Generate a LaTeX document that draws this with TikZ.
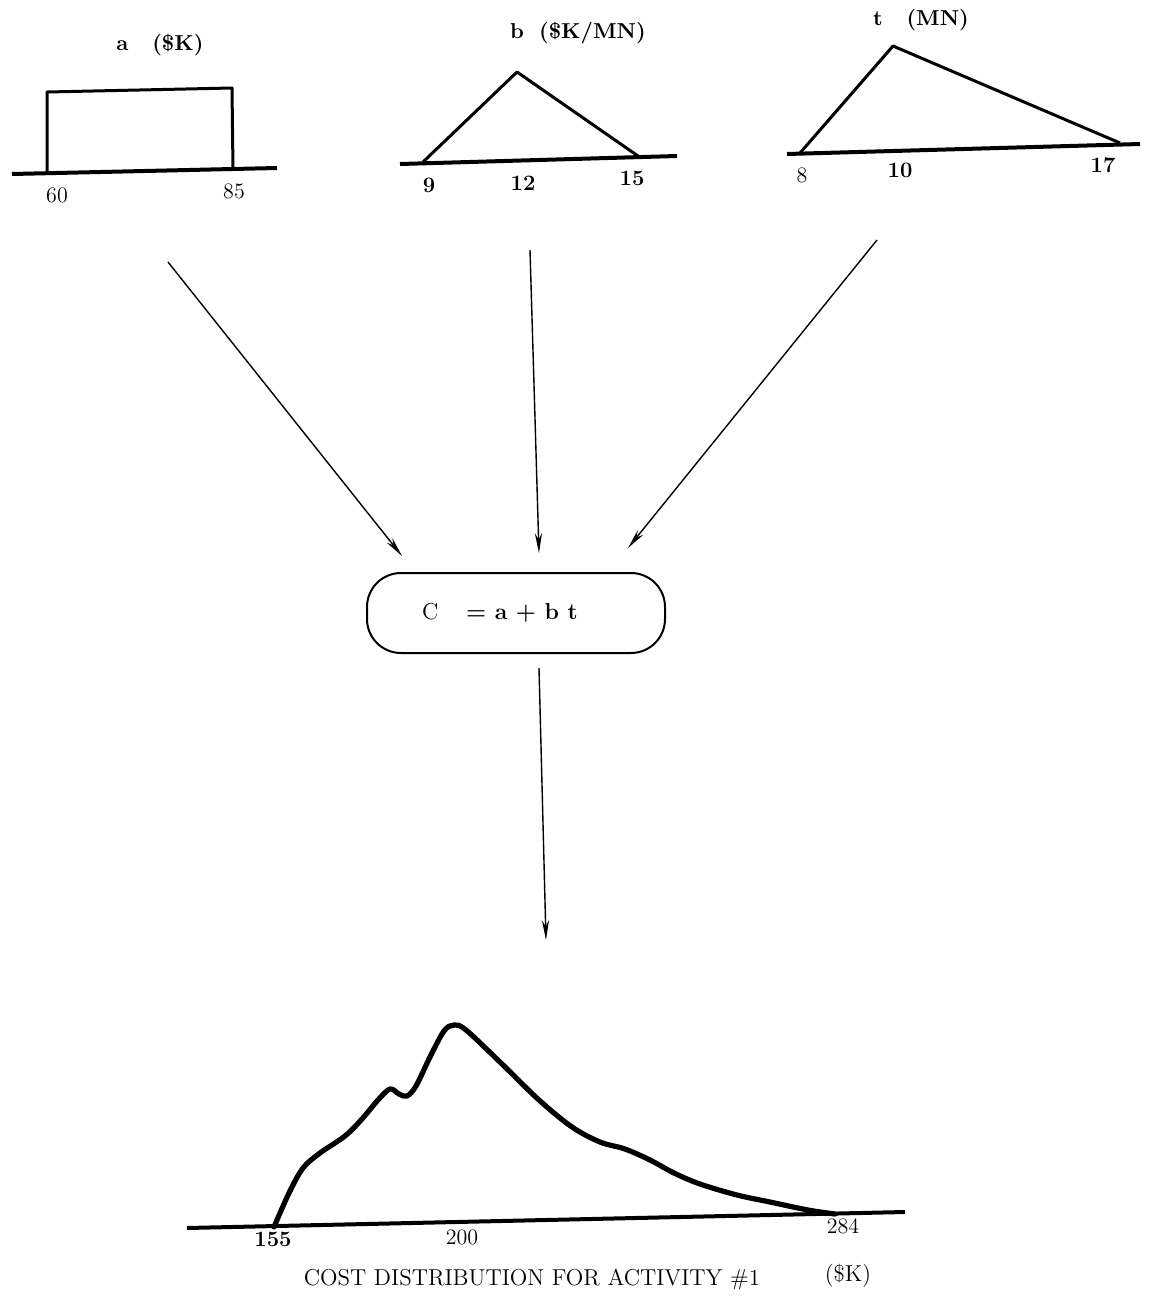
\documentclass[tikz,border=0pt]{standalone}
\usetikzlibrary{arrows.meta}
\begin{document}
\begin{tikzpicture}[x=0.5pt,y=-0.5pt,
  ground/.style={line width=2pt},
  distline/.style={line width=1.5pt,line join=round},
  bigcurve/.style={line width=2.6pt,line join=round,line cap=round},
  arr/.style={line width=0.7pt,-{Stealth[length=10pt,width=3.6pt]}},
  capsule/.style={draw,line width=1pt,rounded corners=17pt,minimum width=149pt,minimum height=40pt,inner sep=0pt},
  lab/.style={font=\fontsize{10.8}{13}\selectfont\bfseries,inner sep=0pt},
  num/.style={font=\fontsize{11}{13}\selectfont,inner sep=0pt},
  bnum/.style={font=\fontsize{11}{13}\selectfont\bfseries,inner sep=0pt},
  captext/.style={font=\fontsize{11.5}{14}\selectfont,inner sep=0pt}]
\useasboundingbox (0,0) rectangle (1150,1307);

% ---- a distribution (uniform)
\node[lab] (la) at (160,45) {a\hspace{1.1em}(\$K)};
\draw[ground] (12,174) -- (277,168);
\draw[distline] (47,172) -- (47,92) -- (232,88) -- (233,170);
\node[num] (n60) at (57,195) {60};
\node[num] (n85) at (234,191) {85};

% ---- b distribution (triangular)
\node[lab] (lb) at (578,33) {b\hspace{0.7em}(\$K/MN)};
\draw[ground] (400,164) -- (677,156);
\draw[distline] (423,162) -- (517,72) -- (638,156);
\node[bnum] (n9) at (429,185) {9};
\node[bnum] (n12) at (523,183) {12};
\node[bnum] (n15) at (632,178) {15};

% ---- t distribution (triangular)
\node[lab] (lt) at (921,20) {t\hspace{1.1em}(MN)};
\draw[ground] (787,154) -- (1140,144);
\draw[distline] (800,153) -- (893,46) -- (1120,143);
\node[num] (n8) at (802,175) {8};
\node[bnum] (n10) at (900,170) {10};
\node[bnum] (n17) at (1103,165) {17};

% ---- combination box
\node[capsule] (C) at (516,613) {};
\node[font=\fontsize{11.5}{14}\selectfont,inner sep=0pt] (eq) at (500,613) {C\hspace{1.2em}\textbf{= a + b t}};

% ---- arrows
\coordinate (sa) at (168,262);
\coordinate (ea) at (402,556);
\coordinate (sb) at (530,250);
\coordinate (eb) at (539,553);
\coordinate (st) at (877,240);
\coordinate (et) at (628,548);
\coordinate (sc) at (539,668);
\coordinate (ec) at (546,940);
\draw[arr] (sa) -- (ea);
\draw[arr] (sb) -- (eb);
\draw[arr] (st) -- (et);
\draw[arr] (sc) -- (ec);

% ---- cost distribution
\draw[ground] (187,1228) -- (905,1212);
\draw[bigcurve] plot[smooth,tension=0.55] coordinates {
 (274,1227) (289,1193) (303,1168) (320,1153) (345,1136) (362,1119)
 (378,1100) (390,1089) (399,1094) (407,1096) (416,1086) (430,1057)
 (444,1031) (454,1025) (466,1030) (501,1063) (539,1100) (572,1127)
 (600,1142) (625,1149) (650,1160) (674,1173) (700,1184) (737,1195)
 (770,1202) (808,1210) (835,1214)};
\node[bnum] (n155) at (273,1239) {155};
\node[num] (n200) at (462,1237) {200};
\node[num] (n284) at (843,1226) {284};
\node[captext] (title) at (532,1280) {COST DISTRIBUTION FOR ACTIVITY \#1};
\node[captext] (unit) at (848,1276) {(\$K)};
\end{tikzpicture}
\end{document}
